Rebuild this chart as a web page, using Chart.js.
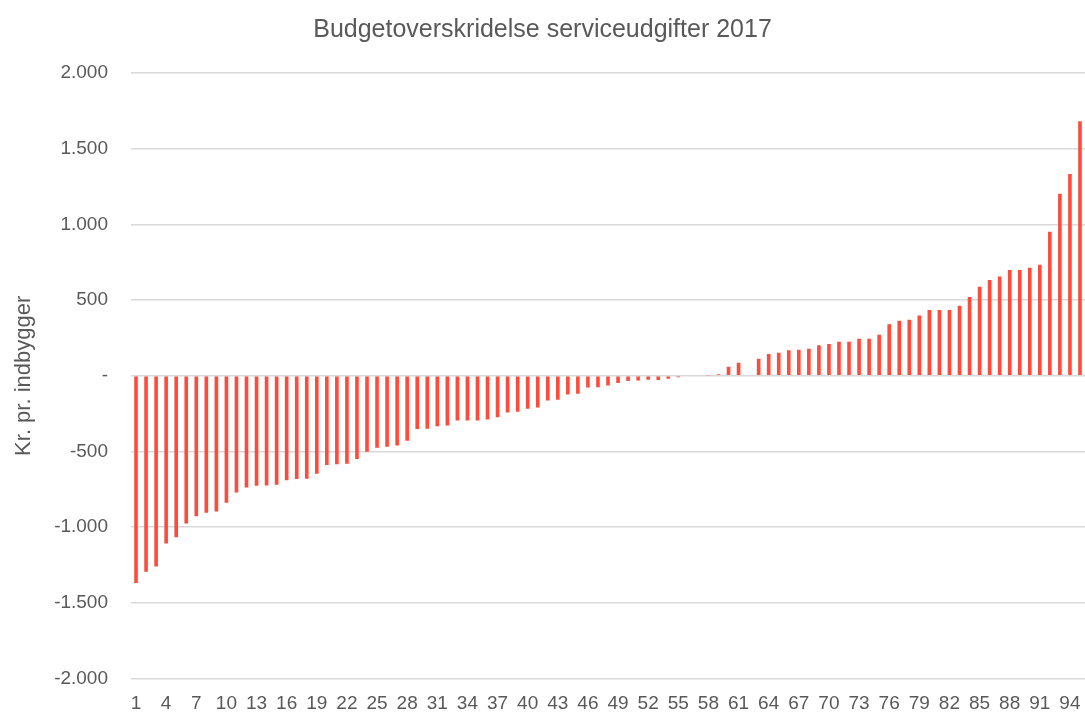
<!DOCTYPE html>
<html>
<head>
<meta charset="utf-8">
<script src="https://cdn.jsdelivr.net/npm/chart.js@4"></script>
<style>
html,body{margin:0;padding:0;background:#fff;}
#wrap{width:1085px;height:713px;position:relative;}
</style>
</head>
<body>
<div id="wrap"><canvas id="c"></canvas></div>
<script>
const categories = [
  '1','2','3','4','5','6','7','8','9','10','11','12','13','14','15','16','17','18','19','20',
  '21','22','23','24','25','26','27','28','29','30','31','32','33','34','35','36','37','38','39','40',
  '41','42','43','44','45','46','47','48','49','50','51','52','53','54','55','56','57','58','59','60',
  '61','62','63','64','65','66','67','68','69','70','71','72','73','74','75','76','77','78','79','80',
  '81','82','83','84','85','86','87','88','89','90','91','92','93','94','95'
];
const overskridelse = [
  -1368,-1295,-1260,-1108,-1067,-976,-928,-904,-897,-838,
  -770,-737,-726,-725,-719,-690,-682,-680,-647,-589,
  -585,-581,-550,-501,-475,-469,-460,-429,-352,-350,
  -334,-328,-295,-295,-295,-288,-273,-242,-238,-218,
  -209,-163,-159,-123,-119,-77,-75,-64,-48,-35,
  -31,-26,-27,-20,-9,0,0,4,11,60,
  86,0,113,144,152,168,172,179,201,210,
  225,225,245,245,271,341,363,370,399,434,
  434,434,463,520,588,632,656,698,698,714,
  734,952,1203,1333,1681
];
const yTicks = [-2000,-1500,-1000,-500,0,500,1000,1500,2000];
const titleText = 'Budgetoverskridelse serviceudgifter 2017';
const yTitle = 'Kr. pr. indbygger';

function fmt(v){
  if (v === 0) return '-';
  const neg = v < 0;
  let s = String(Math.abs(v));
  s = s.replace(/\B(?=(\d{3})+(?!\d))/g, '.');
  return (neg ? '-' : '') + s;
}

const textColor = '#595959';
const fontFam = '"Liberation Sans", Arial, sans-serif';

new Chart(document.getElementById('c'), {
  type: 'bar',
  data: {
    labels: categories,
    datasets: [{
      data: overskridelse,
      backgroundColor: '#FF4B3B',
      borderWidth: 0,
      categoryPercentage: 1,
      barPercentage: 0.36
    }]
  },
  options: {
    responsive: true,
    maintainAspectRatio: false,
    animation: false,
    layout: { padding: 0 },
    plugins: {
      legend: { display: false },
      tooltip: { enabled: false },
      title: {
        display: true,
        text: titleText,
        color: textColor,
        font: { family: fontFam, size: 25, weight: 'normal', lineHeight: 1.2 },
        padding: { top: 15, bottom: 28 }
      }
    },
    scales: {
      x: {
        grid: { display: false, drawTicks: false },
        border: { display: false },
        ticks: {
          autoSkip: false,
          maxRotation: 0,
          minRotation: 0,
          padding: 14,
          color: textColor,
          font: { family: fontFam, size: 19 },
          callback: function(val, idx){ return idx % 3 === 0 ? categories[idx] : ''; }
        },
        afterFit: function(s){ s.height = 33; s.paddingLeft = 0; s.paddingRight = 0; }
      },
      y: {
        min: -2000,
        max: 2000,
        afterBuildTicks: function(s){ s.ticks = yTicks.map(v => ({value: v})); },
        grid: { color: '#D9D9D9', lineWidth: 1.5, drawTicks: false, tickLength: 0 },
        border: { display: false },
        ticks: {
          padding: 23,
          color: textColor,
          font: { family: fontFam, size: 19 },
          callback: function(v){ return fmt(v); }
        },
        title: {
          display: true,
          text: yTitle,
          color: textColor,
          font: { family: fontFam, size: 22 },
          padding: { top: 11, bottom: 0 }
        },
        afterFit: function(s){ s.width = 131; }
      }
    }
  }
});
</script>
</body>
</html>
